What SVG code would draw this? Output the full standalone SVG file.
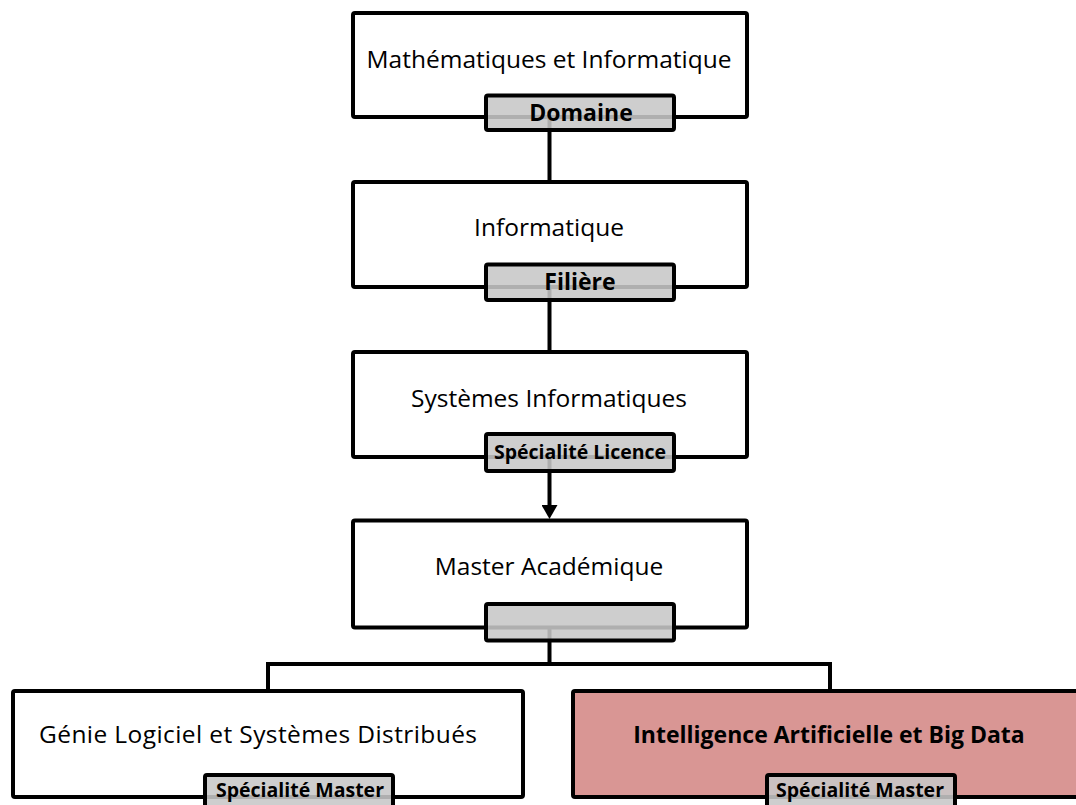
<svg xmlns="http://www.w3.org/2000/svg" width="1076" height="805" viewBox="0 0 1076 805">
<style>
.box{fill:#fff;stroke:#000;stroke-width:4}
.pink{fill:#d99694}
.tag{fill:#c7c7c7;fill-opacity:.88;stroke:#000;stroke-width:4}
.t{font-family:"Open Sans","Liberation Sans",sans-serif;font-size:24.5px;text-anchor:middle;fill:#000}
.tb{font-weight:bold;font-size:23px}
.ts{font-weight:bold;font-size:19.5px}
.conn{stroke:#000;stroke-width:4;fill:none}
</style>
<defs>
<marker id="arr" markerUnits="userSpaceOnUse" markerWidth="16" markerHeight="16" refX="2" refY="8" orient="auto">
<path d="M0,0 L14,8 L0,16 z" fill="#000"/>
</marker>
</defs>
<rect width="1076" height="805" fill="#fff"/>
<g id="connectors">
<path class="conn" d="M549.5,117 V182"/>
<path class="conn" d="M549.5,287 V352"/>
<path class="conn" d="M549.5,457 V507" marker-end="url(#arr)"/>
<path class="conn" d="M549.5,627 V664"/>
<path class="conn" d="M268,691 V664 H830 V691"/>
</g>
<g id="n1">
<rect class="box" x="353" y="13" width="394" height="104" rx="2"/>
<text class="t" x="549" y="68">Mathématiques et Informatique</text>
<rect class="tag" x="486" y="95.5" width="188" height="34.5" rx="2"/>
<text class="t tb" x="581" y="121">Domaine</text>
</g>
<g id="n2">
<rect class="box" x="353" y="182" width="394" height="105" rx="2"/>
<text class="t" x="549" y="235.5">Informatique</text>
<rect class="tag" x="486" y="264.5" width="188" height="35.5" rx="2"/>
<text class="t tb" x="580" y="290">Filière</text>
</g>
<g id="n3">
<rect class="box" x="353" y="352" width="394" height="105" rx="2"/>
<text class="t" x="549" y="407">Systèmes Informatiques</text>
<rect class="tag" x="486" y="434" width="188" height="37" rx="2"/>
<text class="t ts" x="580" y="458.5">Spécialité Licence</text>
</g>
<g id="n4">
<rect class="box" x="353" y="520.5" width="394" height="107" rx="2"/>
<text class="t" x="549" y="575">Master Académique</text>
<rect class="tag" x="486" y="604" width="188" height="36.5" rx="2"/>
</g>
<g id="n5">
<rect class="box" x="13" y="691" width="510" height="106" rx="2"/>
<text class="t" x="258" y="743" textLength="438">Génie Logiciel et Systèmes Distribués</text>
<rect class="tag" x="205" y="775" width="188" height="36" rx="2"/>
<text class="t ts" x="300" y="797">Spécialité Master</text>
</g>
<g id="n6">
<rect class="box pink" x="573" y="691" width="510" height="106" rx="2"/>
<text class="t tb" x="829" y="743">Intelligence Artificielle et Big Data</text>
<rect class="tag" x="767" y="775" width="188" height="36" rx="2"/>
<text class="t ts" x="860" y="797">Spécialité Master</text>
</g>
</svg>
